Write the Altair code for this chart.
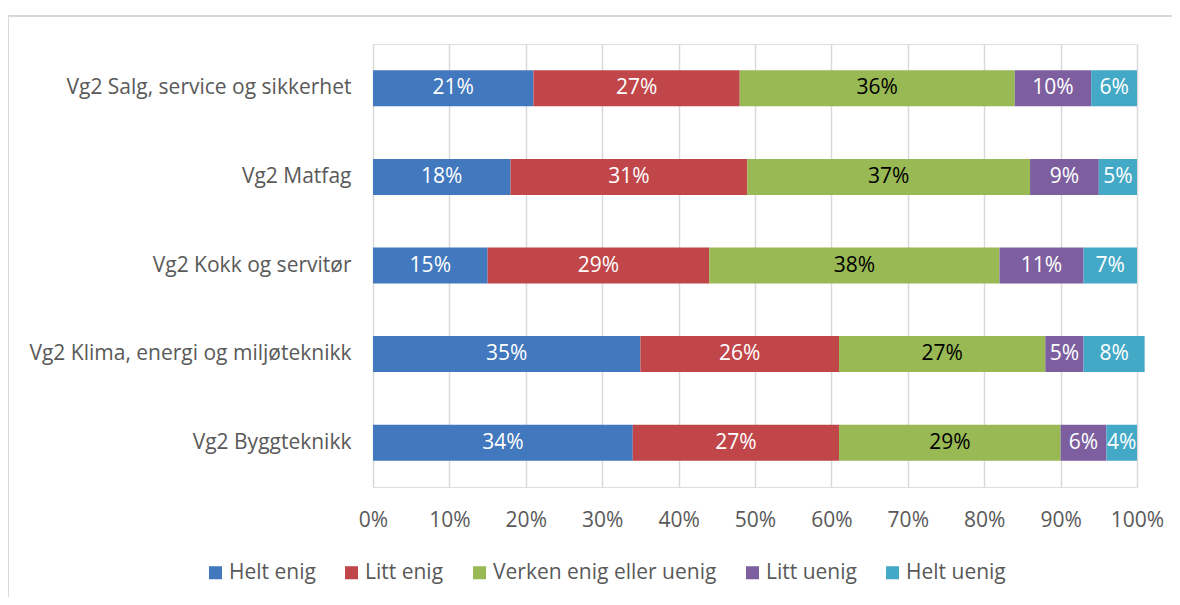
import altair as alt
import pandas as pd

categories = [
    "Vg2 Salg, service og sikkerhet",
    "Vg2 Matfag",
    "Vg2 Kokk og servitør",
    "Vg2 Klima, energi og miljøteknikk",
    "Vg2 Byggteknikk",
]
series = ["Helt enig", "Litt enig", "Verken enig eller uenig", "Litt uenig", "Helt uenig"]
helt_enig = [21, 18, 15, 35, 34]
litt_enig = [27, 31, 29, 26, 27]
verken = [36, 37, 38, 27, 29]
litt_uenig = [10, 9, 11, 5, 6]
helt_uenig = [6, 5, 7, 8, 4]
colors = ["#4178BE", "#C0464A", "#98B954", "#7D5FA0", "#43A9C6"]
text_colors = ["white", "white", "black", "white", "white"]

rows = []
for s_i, (s, vals) in enumerate(zip(series, [helt_enig, litt_enig, verken, litt_uenig, helt_uenig])):
    for c, v in zip(categories, vals):
        rows.append({"cat": c, "serie": s, "ord": s_i, "val": v, "tc": text_colors[s_i]})
df = pd.DataFrame(rows)

FONT = "Open Sans"
GRAY = "#595959"
FS = 21

base = alt.Chart(df).transform_stack(
    stack="val", groupby=["cat"], as_=["x0", "x1"], sort=[alt.SortField("ord", order="ascending")]
).transform_calculate(mid="(datum.x0 + datum.x1) / 2", lab="datum.val + '%'")

xscale = alt.Scale(domain=[0, 100], nice=False, zero=True)
yscale = alt.Scale(domain=categories, paddingInner=0, paddingOuter=0)

bars = base.mark_bar(size=36).encode(
    y=alt.Y("cat:N", scale=yscale, title=None,
            axis=alt.Axis(domain=False, ticks=False, labelPadding=22, labelFontSize=FS,
                          labelColor=GRAY, labelFont=FONT, labelLimit=400, grid=False)),
    x=alt.X("x0:Q", scale=xscale, title=None,
            axis=alt.Axis(values=list(range(0, 101, 10)), labelExpr="datum.value + '%'",
                          domain=False, ticks=False, grid=True, gridColor="#D9D9D9", gridWidth=1.5,
                          labelPadding=22, labelFontSize=FS, labelColor=GRAY, labelFont=FONT,
                          labelFlush=False)),
    x2="x1:Q",
    color=alt.Color("serie:N", scale=alt.Scale(domain=series, range=colors), title=None,
                    legend=alt.Legend(orient="none", legendX=-168, legendY=518, direction="horizontal",
                                      symbolType="square", symbolSize=170, symbolStrokeWidth=0,
                                      labelFontSize=FS, labelColor=GRAY, labelFont=FONT,
                                      columnPadding=25, symbolOffset=0, labelOffset=3, labelLimit=400)),
    order=alt.Order("ord:Q"),
)

labels = base.mark_text(fontSize=FS, font=FONT).encode(
    y=alt.Y("cat:N", scale=yscale),
    x=alt.X("mid:Q", scale=xscale),
    text="lab:N",
    color=alt.Color("tc:N", scale=None),
)

frame_top = alt.Chart(df).mark_rule(color="#D9D9D9", strokeWidth=2).encode(
    x=alt.value(-365), x2=alt.value(830), y=alt.value(-28)
)
frame_left = alt.Chart(df).mark_rule(color="#D9D9D9", strokeWidth=2).encode(
    x=alt.value(-365), y=alt.value(-28), y2=alt.value(580)
)

chart = alt.layer(frame_top, frame_left, bars, labels).properties(
    width=764, height=443,
    autosize=alt.AutoSizeParams(type="none"),
    padding={"left": 365, "top": 36, "right": 35, "bottom": 110},
).configure_view(stroke=None).configure(background="white")

chart.save("out.html", embed_options={"renderer": "svg", "actions": False})
